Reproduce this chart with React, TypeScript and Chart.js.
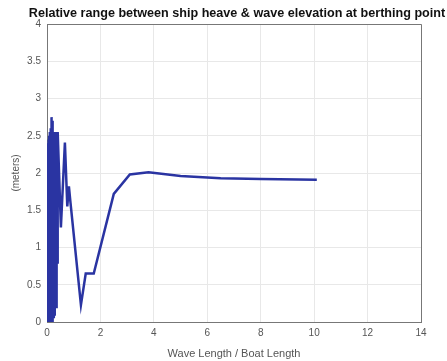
import React, { useEffect, useRef } from "react";
import { Chart, registerables } from "chart.js";
Chart.register(...registerables);

const titleText = "Relative range between ship heave & wave elevation at berthing point";
const xTitle = "Wave Length / Boat Length";
const yTitle = "(meters)";

const ratioX = [
  0.0, 0.02, 0.04, 0.05, 0.07, 0.08, 0.1, 0.11, 0.13, 0.14, 0.16, 0.17, 0.19, 0.2, 0.22, 0.23,
  0.25, 0.26, 0.28, 0.29, 0.31, 0.32, 0.34, 0.36, 0.38, 0.4, 0.52, 0.67, 0.76, 0.82, 0.88,
  1.27, 1.45, 1.75, 2.5, 3.1, 3.8, 5.0, 6.5, 8.0, 10.1,
];
const rangeY = [
  0.0, 2.4, 0.0, 2.45, 0.0, 2.5, 0.0, 2.55, 0.0, 2.6, 0.0, 2.75, 0.0, 2.7, 0.0, 2.5,
  0.05, 2.55, 0.1, 2.5, 0.3, 2.55, 0.2, 2.5, 0.8, 2.55, 1.27, 2.41, 1.55, 1.82, 1.6,
  0.23, 0.65, 0.65, 1.72, 1.98, 2.01, 1.96, 1.93, 1.92, 1.91,
];

export default function App() {
  const ref = useRef<HTMLCanvasElement>(null);
  useEffect(() => {
    document.body.style.margin = "0";
    const ctx = ref.current!;
    const chart = new Chart(ctx, {
      type: "scatter",
      data: {
        datasets: [
          {
            data: ratioX.map((x, i) => ({ x, y: rangeY[i] })),
            showLine: true,
            pointRadius: 0,
            borderColor: "#2a34a2",
            borderWidth: 2.5,
            tension: 0,
          },
        ],
      },
      options: {
        animation: false,
        responsive: false,
        layout: { padding: { left: 0, right: 26, top: 24, bottom: 0 } },
        plugins: {
          legend: { display: false },
          tooltip: { enabled: false },
          title: { display: false },
        },
        scales: {
          x: {
            type: "linear",
            min: 0,
            max: 14,
            ticks: {
              stepSize: 2,
              color: "#555",
              font: { family: "Liberation Sans", size: 10 },
              padding: 5,
              maxRotation: 0,
            },
            grid: { color: "#e8e8e8", drawTicks: false },
            border: { color: "#777", width: 1 },
            title: {
              display: true,
              text: xTitle,
              color: "#555",
              font: { family: "Liberation Sans", size: 11 },
              padding: { top: 2, bottom: 0 },
            },
            afterFit: (s: any) => {
              s.height = 39;
            },
          },
          y: {
            min: 0,
            max: 4,
            ticks: {
              stepSize: 0.5,
              color: "#555",
              font: { family: "Liberation Sans", size: 10 },
              padding: 6,
              callback: (v: any) => String(Number(v)),
            },
            grid: { color: "#e8e8e8", drawTicks: false },
            border: { color: "#777", width: 1 },
            title: {
              display: true,
              text: yTitle,
              color: "#555",
              font: { family: "Liberation Sans", size: 10 },
              padding: { top: 10, bottom: 4 },
            },
            afterFit: (s: any) => {
              s.width = 47;
            },
          },
        },
      },
      plugins: [
        {
          id: "frame",
          afterDraw(c: any) {
            const { ctx: g, chartArea: a } = c;
            g.save();
            g.strokeStyle = "#777";
            g.lineWidth = 1;
            g.beginPath();
            g.moveTo(a.left, a.top + 0.5);
            g.lineTo(a.right + 0.5, a.top + 0.5);
            g.lineTo(a.right + 0.5, a.bottom);
            g.stroke();
            g.fillStyle = "#111";
            g.font = "bold 12.6px 'Liberation Sans'";
            g.textAlign = "center";
            g.textBaseline = "middle";
            g.fillText(titleText, 237, 14);
            g.restore();
          },
        },
      ],
    });
    return () => chart.destroy();
  }, []);
  return (
    <div style={{ width: 447, height: 361, background: "#fff" }}>
      <canvas ref={ref} width={447} height={361} />
    </div>
  );
}
